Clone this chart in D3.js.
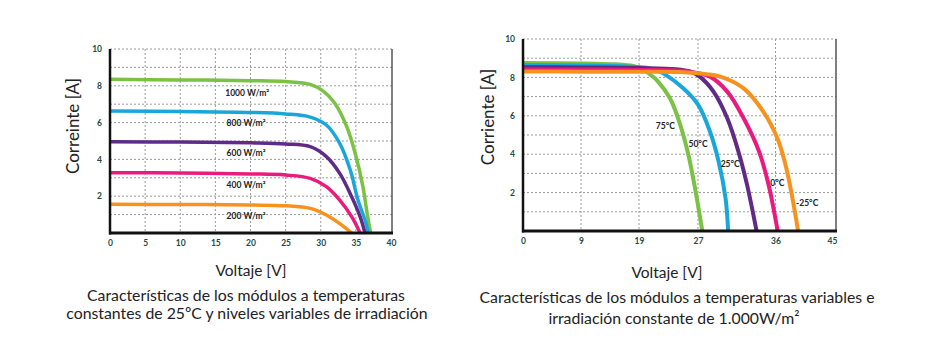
<!DOCTYPE html>
<html><head><meta charset="utf-8">
<script src="https://cdn.jsdelivr.net/npm/d3@7"></script>
<style>body{margin:0;background:#fff}</style></head>
<body><svg id="c" width="930" height="353"></svg>
<script>
// ---- data ----
const leftXTicks = [0,5,10,15,20,25,30,35,40];
const leftYTicks = [2,4,6,8,10];
const rightXTicks = [0,9,19,27,36,45];
const rightYTicks = [2,4,6,8,10];

const irrLabels = ["1000 W/m²","800 W/m²","600 W/m²","400 W/m²","200 W/m²"];
const irr1000 = [[0,8.35],[10,8.32],[20,8.28],[25,8.23],[28.5,8.08],[30.4,7.7],[32,7.05],[33.7,5.78],[34.9,4.33],[36,2.52],[36.6,1.07],[37.1,0]];
const irr800  = [[0,6.63],[10,6.6],[20,6.55],[25,6.47],[28.5,6.3],[30.8,5.87],[32.7,4.87],[34.2,3.42],[35.3,1.79],[36.3,0.71],[36.8,0]];
const irr600  = [[0,4.96],[10,4.94],[20,4.9],[25,4.84],[28.5,4.69],[30.8,4.15],[32.7,3.24],[34.4,1.97],[35.6,0.89],[36.3,0]];
const irr400  = [[0,3.28],[10,3.26],[20,3.21],[25,3.15],[28.5,2.97],[30.8,2.52],[32.7,1.79],[34.4,0.89],[35.6,0]];
const irr200  = [[0,1.56],[10,1.55],[20,1.52],[25,1.48],[28.5,1.34],[30.8,0.98],[33.0,0.43],[34.4,0]];

const tempLabels = ["75°C","50°C","25°C","0°C","-25°C"];
const temp75  = [[0,8.75],[9,8.73],[15,8.68],[18,8.6],[19.5,8.45],[20.5,8.15],[21.4,7.86],[23.2,6.91],[24.6,5.52],[25.7,3.96],[26.6,2.22],[27.5,0]];
const temp50  = [[0,8.64],[9,8.62],[17,8.57],[20,8.5],[21.5,8.35],[22.3,8.21],[25,7.43],[27.04,6.56],[28.4,5.17],[29.4,3.61],[30.2,1.7],[30.5,0]];
const temp25  = [[0,8.53],[9,8.52],[19,8.49],[24,8.43],[26,8.3],[27.2,8.04],[28.8,7.26],[30.4,5.87],[31.7,4.13],[32.7,2.4],[33.8,0]];
const temp0   = [[0,8.42],[9,8.41],[19,8.39],[25,8.35],[27,8.22],[28.4,8.04],[30.4,7.26],[32.3,5.87],[34.1,4.13],[35.2,2.4],[36.35,0]];
const tempM25 = [[0,8.31],[9,8.3],[19,8.29],[25,8.27],[28,8.17],[29.6,8.04],[32.3,7.43],[34.6,6.21],[36.3,4.83],[37.6,3.44],[38.6,1.88],[39.6,0]];

const colors = ["#7bc143","#19a7da","#5f2b86","#ea1b7f","#f7921e"];

// ---- drawing ----
const svg = d3.select("#c");
const FONT = "Lato, 'Open Sans', sans-serif";
const tickColor = "#1e4a4a";

function panel(o){
  const g = svg.append("g");
  const x = d3.scaleLinear().domain(o.xDomain).range(o.xRange);
  const y = d3.scaleLinear().domain([0,10]).range(o.yRange);
  const x0 = o.xRange[0], x1 = o.xRange[o.xRange.length-1] + o.extraRight;
  const yTop = y(10), yBot = y(0);
  g.append("g").selectAll("line").data(d3.range(1,11)).join("line")
    .attr("x1",x0).attr("x2",x1).attr("y1",d=>y(d)).attr("y2",d=>y(d))
    .attr("stroke","#9a9a9a").attr("stroke-width",1).attr("stroke-dasharray","2,2");
  g.append("g").selectAll("line").data(o.xTicks.slice(1,-1)).join("line")
    .attr("x1",d=>x(d)).attr("x2",d=>x(d)).attr("y1",yTop).attr("y2",yBot)
    .attr("stroke","#9a9a9a").attr("stroke-width",1).attr("stroke-dasharray","2,2");
  g.append("line").attr("x1",x1).attr("x2",x1).attr("y1",yTop).attr("y2",yBot)
    .attr("stroke","#555").attr("stroke-width",1.5);
  const line = d3.line().x(d=>x(d[0])).y(d=>y(d[1])).curve(d3.curveCatmullRom.alpha(0.5));
  g.append("g").selectAll("path").data(o.series).join("path")
    .attr("d",d=>line(d)).attr("fill","none")
    .attr("stroke",(d,i)=>colors[i]).attr("stroke-width",o.lw).attr("stroke-linecap","butt");
  g.append("line").attr("x1",x0).attr("x2",x0).attr("y1",yTop).attr("y2",yBot+1.5)
    .attr("stroke","#111").attr("stroke-width",2.5);
  g.append("line").attr("x1",x0-1).attr("x2",x1+1).attr("y1",yBot).attr("y2",yBot)
    .attr("stroke","#111").attr("stroke-width",3);
  const xAxis = d3.axisBottom(x).tickValues(o.xTicks).tickSize(0).tickPadding(7);
  const xg = g.append("g").attr("transform",`translate(0,${yBot})`).call(xAxis);
  const yAxis = d3.axisLeft(y).tickValues(o.yTicks).tickSize(0).tickPadding(o.yPad);
  const yg = g.append("g").attr("transform",`translate(${x0},0)`).call(yAxis);
  [xg,yg].forEach(a=>{
    a.select(".domain").remove();
    a.selectAll("text").attr("font-family",FONT).attr("font-size",8.5)
      .attr("font-weight","bold").attr("fill",tickColor);
  });
  g.append("g").selectAll("text").data(o.labels).join("text")
    .attr("x",(d,i)=>x(o.labelPos[i][0])).attr("y",(d,i)=>y(o.labelPos[i][1]))
    .attr("dy","0.35em").attr("text-anchor",o.labelAnchor)
    .attr("font-family",FONT).attr("font-size",8.5).attr("font-weight","bold").attr("fill","#222")
    .text(d=>d);
  g.append("text").attr("transform",`translate(${o.yTitlePos[0]},${o.yTitlePos[1]}) rotate(-90)`)
    .attr("text-anchor","middle").attr("dy","0.35em")
    .attr("font-family",FONT).attr("font-size",17).attr("fill","#222").text(o.yTitle);
  g.append("text").attr("x",o.xTitlePos[0]).attr("y",o.xTitlePos[1])
    .attr("text-anchor","middle").attr("dy","0.35em")
    .attr("font-family",FONT).attr("font-size",15.5).attr("fill","#222").text("Voltaje [V]");
  o.caption.forEach((t,i)=>{
    g.append("text").attr("x",o.capPos[i][0]).attr("y",o.capPos[i][1])
      .attr("text-anchor","middle").attr("dy","0.35em")
      .attr("font-family",FONT).attr("font-size",15.8).attr("fill","#222").text(t);
  });
}

panel({
  xDomain:[0,40], xRange:[110,391], yRange:[233,49], extraRight:1,
  xTicks:leftXTicks, yTicks:leftYTicks, yPad:8,
  series:[irr1000,irr800,irr600,irr400,irr200], lw:3.5,
  labels:irrLabels, labelAnchor:"start",
  labelPos:[[16.4,7.63],[16.6,5.99],[16.6,4.33],[16.6,2.61],[16.6,0.94]],
  yTitle:"Correinte [A]", yTitlePos:[73,126],
  xTitlePos:[251,271],
  caption:["Características de los módulos a temperaturas","constantes de 25ºC y niveles variables de irradiación"],
  capPos:[[246,295],[247,313]]
});

panel({
  xDomain:rightXTicks, xRange:[523,581,639,698,775.5,832], yRange:[231,39], extraRight:4,
  xTicks:rightXTicks, yTicks:rightYTicks, yPad:8,
  series:[temp75,temp50,temp25,temp0,tempM25], lw:4,
  labels:tempLabels, labelAnchor:"middle",
  labelPos:[[22.57,5.47],[27.0,4.52],[30.74,3.48],[36.3,2.49],[41.05,1.48]],
  yTitle:"Corriente [A]", yTitlePos:[488,117],
  xTitlePos:[667,273],
  caption:["Características de los módulos a temperaturas variables e","irradiación constante de 1.000W/m²"],
  capPos:[[677,297],[674,318]]
});
</script>
</body></html>
